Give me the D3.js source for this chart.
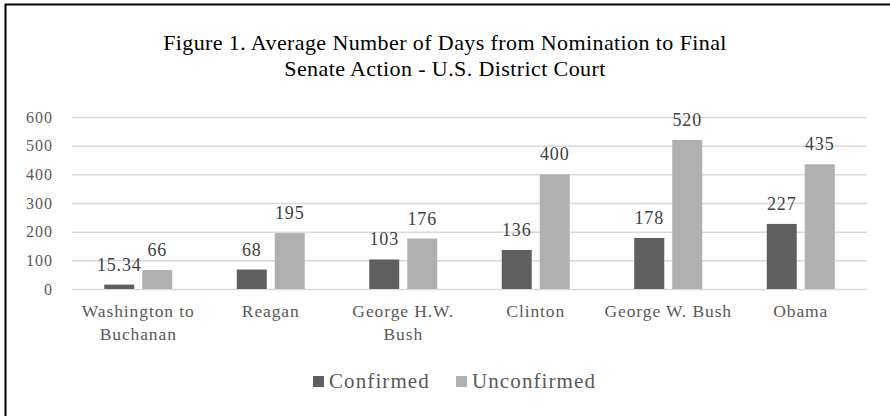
<!DOCTYPE html>
<html><head><meta charset="utf-8">
<script src="https://cdn.jsdelivr.net/npm/d3@7"></script>
<style>body{margin:0;background:#fff}svg{display:block}text{font-family:"Liberation Serif","DejaVu Serif",serif}</style>
</head><body>
<svg id="c" width="890" height="416"></svg>
<script>
const categories = [["Washington to","Buchanan"],["Reagan"],["George H.W.","Bush"],["Clinton"],["George W. Bush"],["Obama"]];
const confirmed = [15.34, 68, 103, 136, 178, 227];
const unconfirmed = [66, 195, 176, 400, 520, 435];
const seriesNames = ["Confirmed","Unconfirmed"];
const colors = ["#5f5f5f","#b0b0b0"];
const yTicks = [0,100,200,300,400,500,600];

(function(){
const svg = d3.select("#c");
const FF = "Liberation Serif, DejaVu Serif, serif";
svg.append("rect").attr("x",5.5).attr("y",4.5).attr("width",1000).attr("height",1000)
  .attr("fill","#fff").attr("stroke","#000").attr("stroke-width",2);

const titleLines = ["Figure 1. Average Number of Days from Nomination to Final","Senate Action - U.S. District Court"];
titleLines.forEach((t,i)=>svg.append("text").attr("x",445).attr("y",50+i*26).attr("text-anchor","middle")
  .attr("font-family",FF).attr("font-size",22).attr("letter-spacing",0.4).attr("fill","#000").text(t));

const pL=72, pR=867, pT=117, pB=289;
const x = d3.scaleBand().domain(d3.range(categories.length)).range([pL,pR]).paddingInner(0).paddingOuter(0);
const y = d3.scaleLinear().domain([0,600]).range([pB,pT]);

const yAxis = d3.axisLeft(y).tickValues(yTicks).tickSize(-(pR-pL)).tickPadding(19);
const gy = svg.append("g").attr("transform",`translate(${pL},0)`).call(yAxis);
gy.select(".domain").remove();
gy.selectAll(".tick line").attr("stroke","#d9d9d9").attr("stroke-width",1.5);
gy.selectAll(".tick text").attr("font-size",16).attr("letter-spacing",1).attr("fill","#595959").attr("font-family",FF);

const bw = 30, gap = 8;
const series = [confirmed, unconfirmed];
series.forEach((vals,si)=>{
  const off = x.bandwidth()/2 - (bw*2+gap)/2 + si*(bw+gap);
  svg.append("g").selectAll("rect").data(vals).join("rect")
    .attr("x",(d,i)=>x(i)+off).attr("y",d=>y(d)).attr("width",bw).attr("height",d=>pB-y(d))
    .attr("fill",colors[si]);
  svg.append("g").selectAll("text").data(vals).join("text")
    .attr("x",(d,i)=>x(i)+off+bw/2).attr("y",d=>y(d)-14)
    .attr("text-anchor","middle").attr("font-family",FF).attr("font-size",18).attr("letter-spacing",0.8)
    .attr("fill","#404040").text(d=>d);
});

const gx = svg.append("g");
categories.forEach((lines,i)=>{
  const cx = x(i)+x.bandwidth()/2;
  const t = gx.append("text").attr("x",cx).attr("y",317)
    .attr("text-anchor","middle").attr("font-family",FF).attr("font-size",17.5).attr("letter-spacing",0.9).attr("fill","#595959");
  lines.forEach((l,j)=>t.append("tspan").attr("x",cx).attr("dy",j?23:0).text(l));
});

const legX = [313, 456];
seriesNames.forEach((n,i)=>{
  svg.append("rect").attr("x",legX[i]).attr("y",376).attr("width",11).attr("height",11).attr("fill",colors[i]);
  svg.append("text").attr("x",legX[i]+16).attr("y",388).attr("font-family",FF).attr("font-size",21)
    .attr("letter-spacing",1.1).attr("fill","#595959").text(n);
});
})();
</script>
</body></html>
